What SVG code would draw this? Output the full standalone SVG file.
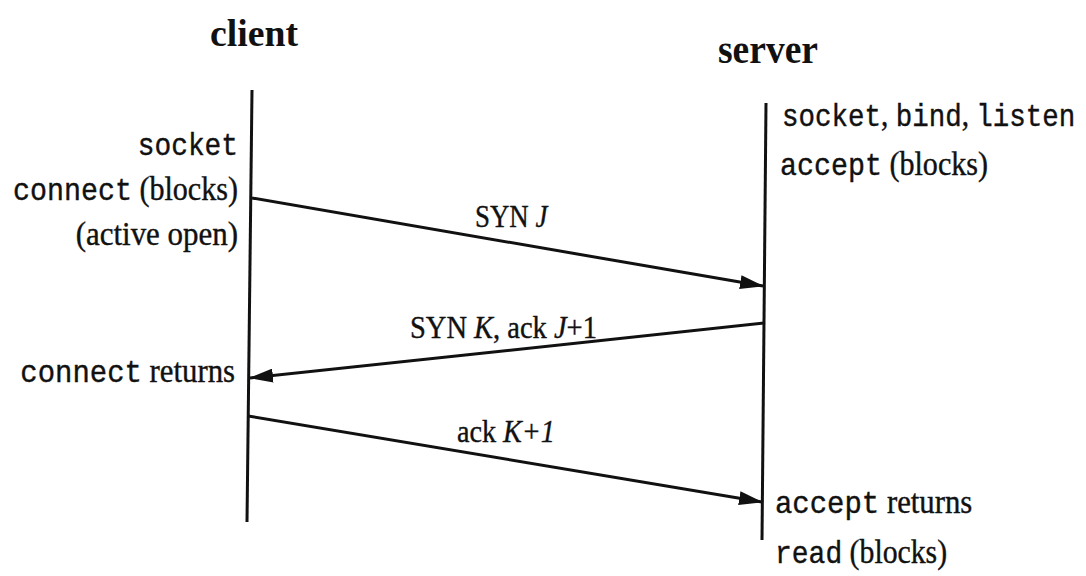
<svg xmlns="http://www.w3.org/2000/svg" width="1086" height="576" viewBox="0 0 1086 576">
<defs>
<style>
.title{font-family:"Liberation Serif",serif;font-weight:bold;fill:#111}
.lbl{font-family:"Liberation Serif",serif;font-size:34px;fill:#111;stroke:#111;stroke-width:0.4}
.mono{font-family:"Liberation Mono",monospace;font-size:32px}
.msg{font-family:"Liberation Serif",serif;font-size:32px;fill:#111;stroke:#111;stroke-width:0.4}
.it{font-style:italic}
.end{text-anchor:end}
.life{stroke:#111;stroke-width:3;fill:none}
.arrow{stroke:#111;stroke-width:3;fill:none}
</style>
<marker id="ah" viewBox="0 0 24 14" refX="23" refY="7" markerWidth="24" markerHeight="14" markerUnits="userSpaceOnUse" orient="auto">
<path d="M0,0 L24,7 L0,14 Z" fill="#111"/>
</marker>
</defs>
<rect width="1086" height="576" fill="#fff"/>

<g id="client">
<text class="title" x="254" y="46" font-size="37" text-anchor="middle" textLength="88" lengthAdjust="spacingAndGlyphs">client</text>
<line class="life" x1="252" y1="90" x2="247" y2="522"/>
<text class="lbl end" transform="translate(238,155) scale(0.87,1)"><tspan class="mono">socket</tspan></text>
<text class="lbl end" transform="translate(238,200) scale(0.885,1)"><tspan class="mono">connect</tspan> (blocks)</text>
<text class="lbl end" transform="translate(238,245) scale(0.91,1)">(active open)</text>
<text class="lbl end" transform="translate(235,382) scale(0.905,1)"><tspan class="mono">connect</tspan> returns</text>
</g>

<g id="server">
<text class="title" x="768" y="63" font-size="40" text-anchor="middle" textLength="100" lengthAdjust="spacingAndGlyphs">server</text>
<line class="life" x1="766" y1="103" x2="762" y2="540"/>
<text class="lbl" transform="translate(782,126) scale(0.86,1)"><tspan class="mono">socket</tspan>, <tspan class="mono">bind</tspan>, <tspan class="mono">listen</tspan></text>
<text class="lbl" transform="translate(780,175) scale(0.885,1)"><tspan class="mono">accept</tspan> (blocks)</text>
<text class="lbl" transform="translate(775,513) scale(0.905,1)"><tspan class="mono">accept</tspan> returns</text>
<text class="lbl" transform="translate(775,563) scale(0.875,1)"><tspan class="mono">read</tspan> (blocks)</text>
</g>

<g id="connectors">
<line class="arrow" x1="252" y1="198" x2="763" y2="286" marker-end="url(#ah)"/>
<text class="msg" transform="translate(475,227) scale(0.84,1)">SYN <tspan class="it">J</tspan></text>
<line class="arrow" x1="765" y1="323" x2="250" y2="378" marker-end="url(#ah)"/>
<text class="msg" transform="translate(410,338) scale(0.89,1)">SYN <tspan class="it">K</tspan>, ack <tspan class="it">J</tspan>+1</text>
<line class="arrow" x1="248" y1="416" x2="762" y2="502" marker-end="url(#ah)"/>
<text class="msg" transform="translate(457,442) scale(0.88,1)">ack <tspan class="it">K+1</tspan></text>
</g>
</svg>
